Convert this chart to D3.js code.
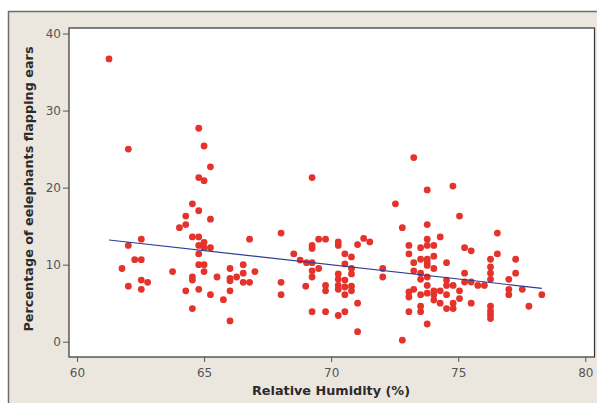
<!DOCTYPE html>
<html>
<head>
<meta charset="utf-8">
<script src="https://cdn.jsdelivr.net/npm/d3@7"></script>
<style>
  html, body { margin: 0; padding: 0; background: #fff; }
  svg { display: block; }
</style>
</head>
<body>
<svg id="chart"></svg>
<script>
// Relative humidity (%) of each observation
const humidity = [
  61.26, 62.02, 64.79, 65.0, 65.25, 64.79, 65.0, 73.25, 69.25, 73.78, 74.79,
  64.54, 64.79, 64.28, 65.25, 64.28, 64.03, 68.03, 64.54, 64.79, 62.53,
  66.79, 62.02, 65.0, 64.79, 65.0, 65.25, 64.79, 68.53, 68.78, 62.27,
  62.53, 61.77, 63.76, 64.79, 65.0, 65.0, 66.02, 66.54, 67.0, 66.54,
  65.51, 64.54, 64.54, 66.02, 66.28, 66.02, 66.54, 66.79, 62.53, 62.78,
  62.02, 62.53, 68.03, 64.28, 64.79, 66.02, 65.25, 68.03, 65.76, 64.54, 66.02,
  72.53, 75.05, 72.80, 73.78, 76.54, 74.29, 69.51, 69.78, 71.28, 71.52,
  69.25, 70.28, 70.28, 71.04, 73.06, 73.52, 73.78, 73.78, 74.04, 75.25,
  75.51, 69.25, 70.54, 70.80, 73.06, 73.52, 73.78, 74.04, 76.54, 69.03,
  69.25, 73.25, 73.78, 74.54, 76.27, 77.26, 70.54, 73.78, 74.04, 76.27,
  69.51, 70.80, 72.03, 69.25, 73.25, 73.52, 75.25, 76.27, 77.26, 69.25,
  70.28, 70.80, 72.03, 73.52, 73.78, 70.28, 70.54, 74.54, 75.25, 75.51,
  75.77, 76.03, 76.27, 76.99, 69.0, 69.78, 70.28, 70.54, 70.80, 73.78,
  74.54, 74.80, 73.25, 69.78, 70.28, 70.80, 73.06, 74.04, 74.29, 75.05,
  76.99, 77.52, 70.54, 73.52, 73.78, 74.04, 74.54, 76.99, 78.29, 73.06,
  74.04, 75.05, 74.80, 74.29, 75.51, 71.04, 73.52, 74.54, 74.80, 77.78,
  69.25, 69.78, 70.28, 70.54, 73.06, 73.52, 76.27, 76.27, 76.27, 76.27,
  73.78, 71.04, 72.80
];

// Percentage of elephants flapping ears, same order
const flapping = [
  36.7, 25.0, 27.7, 25.4, 22.7, 21.3, 20.9, 23.9, 21.3, 19.7, 20.2,
  17.9, 17.0, 16.3, 15.9, 15.2, 14.8, 14.1, 13.6, 13.6, 13.3,
  13.3, 12.5, 12.9, 12.5, 12.2, 12.2, 11.4, 11.4, 10.6, 10.65,
  10.65, 9.5, 9.1, 10.0, 10.0, 9.1, 9.5, 10.0, 9.1, 8.9,
  8.4, 8.4, 8.0, 8.2, 8.4, 7.9, 7.7, 7.7, 8.0, 7.7,
  7.2, 6.8, 7.7, 6.6, 6.8, 6.6, 6.1, 6.1, 5.45, 4.3, 2.7,
  17.9, 16.3, 14.8, 15.2, 14.1, 13.6, 13.3, 13.3, 13.4, 12.95,
  12.5, 12.95, 12.5, 12.6, 12.5, 12.2, 13.3, 12.5, 12.5, 12.2,
  11.8, 12.1, 11.4, 11.0, 11.4, 10.7, 10.7, 11.1, 11.4, 10.26,
  10.26, 10.26, 10.26, 10.26, 10.7, 10.7, 10.1, 9.9, 9.5, 9.7,
  9.5, 9.5, 9.5, 9.2, 9.2, 8.9, 8.9, 8.9, 8.9, 8.4,
  8.8, 8.8, 8.4, 8.1, 8.4, 8.1, 8.0, 8.0, 7.75, 7.75,
  7.3, 7.3, 8.1, 8.1, 7.2, 7.3, 7.3, 7.1, 7.2, 7.3,
  7.3, 7.3, 6.8, 6.6, 6.8, 6.6, 6.45, 6.6, 6.6, 6.6,
  6.8, 6.8, 6.1, 6.1, 6.3, 6.1, 6.1, 6.1, 6.1, 5.8,
  5.4, 5.6, 5.0, 5.0, 5.0, 5.0, 4.6, 4.3, 4.3, 4.6,
  3.9, 3.9, 3.4, 3.9, 3.9, 3.9, 4.6, 4.0, 3.5, 3.0,
  2.3, 1.3, 0.2
];

// Fitted regression line, end points
const fitX = [61.26, 78.29];
const fitY = [13.2, 6.93];

const xTicks = [60, 65, 70, 75, 80];
const yTicks = [0, 10, 20, 30, 40];

const W = 597, H = 403;
const plot = { left: 69, top: 28, right: 594.5, bottom: 357 };
const font = '"DejaVu Sans", Verdana, sans-serif';

const svg = d3.select('#chart')
  .attr('width', W)
  .attr('height', H);

// Fondo exterior (beige) con borde arriba e izquierda
svg.append('rect')
  .attr('x', 8.5).attr('y', 11.5)
  .attr('width', W - 8.5).attr('height', H - 11.5)
  .attr('fill', '#ebe7df');

svg.append('path')
  .attr('d', `M8.5,${H} V11.5 H${W}`)
  .attr('fill', 'none')
  .attr('stroke', '#6b6b6b')
  .attr('stroke-width', 1.5);

// Area del grafico
svg.append('rect')
  .attr('x', plot.left).attr('y', plot.top)
  .attr('width', plot.right - plot.left)
  .attr('height', plot.bottom - plot.top)
  .attr('fill', '#fff')
  .attr('stroke', '#333')
  .attr('stroke-width', 1.2);

// Escalas
const x = d3.scaleLinear().domain([60, 80]).range([77, 585.3]);
const y = d3.scaleLinear().domain([0, 40]).range([341.7, 33.5]);

// Ejes
const xAxis = svg.append('g')
  .attr('transform', `translate(0,${plot.bottom})`)
  .call(d3.axisBottom(x).tickValues(xTicks).tickSize(5).tickPadding(6).tickFormat(d3.format('d')));

const yAxis = svg.append('g')
  .attr('transform', `translate(${plot.left},0)`)
  .call(d3.axisLeft(y).tickValues(yTicks).tickSize(6).tickPadding(2).tickFormat(d3.format('d')));

[xAxis, yAxis].forEach(g => {
  g.select('.domain').remove();
  g.selectAll('line').attr('stroke', '#555');
  g.selectAll('text')
    .attr('fill', '#555')
    .style('font-family', font)
    .style('font-size', '12px');
});

// Etiquetas de los ejes
svg.append('text')
  .attr('x', 331)
  .attr('y', 395)
  .attr('text-anchor', 'middle')
  .attr('fill', '#2b2b2b')
  .style('font-family', font)
  .style('font-size', '12.8px')
  .style('font-weight', 'bold')
  .text('Relative Humidity (%)');

svg.append('text')
  .attr('transform', 'translate(33,189) rotate(-90)')
  .attr('text-anchor', 'middle')
  .attr('fill', '#2b2b2b')
  .style('font-family', font)
  .style('font-size', '12.8px')
  .style('font-weight', 'bold')
  .text('Percentage of eelephants flapping ears');

// Puntos
const points = humidity.map((h, i) => ({ h: h, p: flapping[i] }));

svg.append('g')
  .selectAll('circle')
  .data(points)
  .join('circle')
  .attr('cx', d => x(d.h))
  .attr('cy', d => y(d.p))
  .attr('r', 3.4)
  .attr('fill', '#e5322b');

// Linea de regresion
const fit = fitX.map((v, i) => ({ h: v, p: fitY[i] }));
const line = d3.line()
  .x(d => x(d.h))
  .y(d => y(d.p));

svg.append('path')
  .datum(fit)
  .attr('fill', 'none')
  .attr('stroke', '#2f3c94')
  .attr('stroke-width', 1.2)
  .attr('d', line);
</script>
</body>
</html>
